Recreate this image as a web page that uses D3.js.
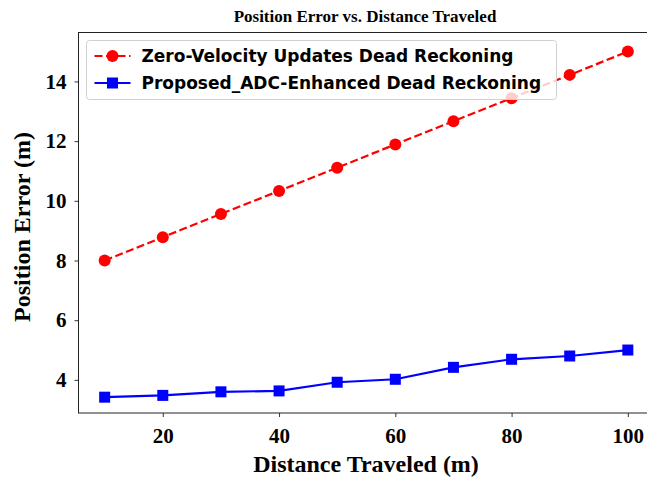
<!DOCTYPE html>
<meta charset="utf-8">
<script src="https://d3js.org/d3.v7.min.js"></script>
<style>
  body { margin: 0; background: #fff; }
  svg { display: block; }
</style>
<div id="chart"></div>
<script>
// data
var distance = [10, 20, 30, 40, 50, 60, 70, 80, 90, 100];
var zuptError = [8.0, 8.78, 9.56, 10.33, 11.11, 11.89, 12.67, 13.44, 14.22, 15.0];
var adcError = [3.42, 3.48, 3.6, 3.63, 3.92, 4.02, 4.42, 4.69, 4.8, 5.0];
var xTicks = [20, 40, 60, 80, 100];
var yTicks = [4, 6, 8, 10, 12, 14];
var seriesNames = ["Zero-Velocity Updates Dead Reckoning", "Proposed_ADC-Enhanced Dead Reckoning"];

var W = 647, H = 477;
var plot = {left: 78.5, top: 32.5, right: 654, bottom: 413};

var svg = d3.select("#chart").append("svg")
  .attr("width", W).attr("height", H);

var x = d3.scaleLinear().domain([5.5, 104.5]).range([plot.left, plot.right]);
var y = d3.scaleLinear().domain([2.89, 15.64]).range([plot.bottom, plot.top]);

var serif = "'Liberation Serif', 'Times New Roman', serif";
var sans = "'DejaVu Sans', sans-serif";

// axes
var xAxis = svg.append("g")
  .attr("transform", "translate(0," + plot.bottom + ")")
  .call(d3.axisBottom(x).tickValues(xTicks).tickSize(4).tickPadding(11));
var yAxis = svg.append("g")
  .attr("transform", "translate(" + plot.left + ",0)")
  .call(d3.axisLeft(y).tickValues(yTicks).tickSize(4).tickPadding(8));

[xAxis, yAxis].forEach(function(a) {
  a.select(".domain").remove();
  a.selectAll("line").attr("stroke", "#000").attr("stroke-width", 0.8);
  a.selectAll("text")
    .attr("fill", "#000")
    .style("font-family", serif)
    .style("font-weight", "bold")
    .style("font-size", "21px");
});

// frame (right side falls outside the picture)
svg.append("rect")
  .attr("x", plot.left).attr("y", plot.top)
  .attr("width", plot.right - plot.left).attr("height", plot.bottom - plot.top)
  .attr("fill", "none").attr("stroke", "#222").attr("stroke-width", 1);

// lines
var line = function(vals) {
  return d3.line()
    .x(function(d, i) { return x(distance[i]); })
    .y(function(d) { return y(d); })(vals);
};

svg.append("path")
  .attr("d", line(zuptError))
  .attr("fill", "none").attr("stroke", "#ff0000")
  .attr("stroke-width", 2.2).attr("stroke-dasharray", "8,3.5");

svg.append("path")
  .attr("d", line(adcError))
  .attr("fill", "none").attr("stroke", "#0000ff")
  .attr("stroke-width", 2.2);

svg.append("g").selectAll("circle")
  .data(zuptError).enter().append("circle")
  .attr("cx", function(d, i) { return x(distance[i]); })
  .attr("cy", function(d) { return y(d); })
  .attr("r", 6)
  .attr("fill", "#ff0000");

svg.append("g").selectAll("rect")
  .data(adcError).enter().append("rect")
  .attr("x", function(d, i) { return x(distance[i]) - 5.5; })
  .attr("y", function(d) { return y(d) - 5.5; })
  .attr("width", 11).attr("height", 11)
  .attr("fill", "#0000ff");

// legend
var lg = svg.append("g").attr("transform", "translate(86.5,40.5)");
lg.append("rect")
  .attr("width", 470).attr("height", 59)
  .attr("rx", 3)
  .attr("fill", "#fff").attr("fill-opacity", 0.8)
  .attr("stroke", "#d0d0d0").attr("stroke-width", 1);

var rows = lg.selectAll("g.row").data(seriesNames).enter().append("g")
  .attr("transform", function(d, i) { return "translate(0," + (15.5 + i * 27) + ")"; });

rows.append("line")
  .attr("x1", 8).attr("x2", 44).attr("y1", 0).attr("y2", 0)
  .attr("stroke", function(d, i) { return i ? "#0000ff" : "#ff0000"; })
  .attr("stroke-width", 2.2)
  .attr("stroke-dasharray", function(d, i) { return i ? null : "8,3.5"; });

rows.filter(function(d, i) { return i === 0; }).append("circle")
  .attr("cx", 26).attr("cy", 0).attr("r", 6).attr("fill", "#ff0000");
rows.filter(function(d, i) { return i === 1; }).append("rect")
  .attr("x", 20.5).attr("y", -5.5).attr("width", 11).attr("height", 11).attr("fill", "#0000ff");

rows.append("text")
  .attr("x", 55).attr("y", 0).attr("dy", "0.36em")
  .style("font-family", sans).style("font-weight", "bold").style("font-size", "17px")
  .attr("fill", "#000")
  .text(function(d) { return d; });

// title and labels
svg.append("text")
  .attr("x", 365).attr("y", 22)
  .attr("text-anchor", "middle")
  .style("font-family", serif).style("font-weight", "bold").style("font-size", "17px")
  .text("Position Error vs. Distance Traveled");

svg.append("text")
  .attr("x", 366).attr("y", 472)
  .attr("text-anchor", "middle")
  .style("font-family", serif).style("font-weight", "bold").style("font-size", "24px")
  .text("Distance Traveled (m)");

svg.append("text")
  .attr("transform", "translate(30,227) rotate(-90)")
  .attr("text-anchor", "middle")
  .style("font-family", serif).style("font-weight", "bold").style("font-size", "24px")
  .text("Position Error (m)");
</script>
